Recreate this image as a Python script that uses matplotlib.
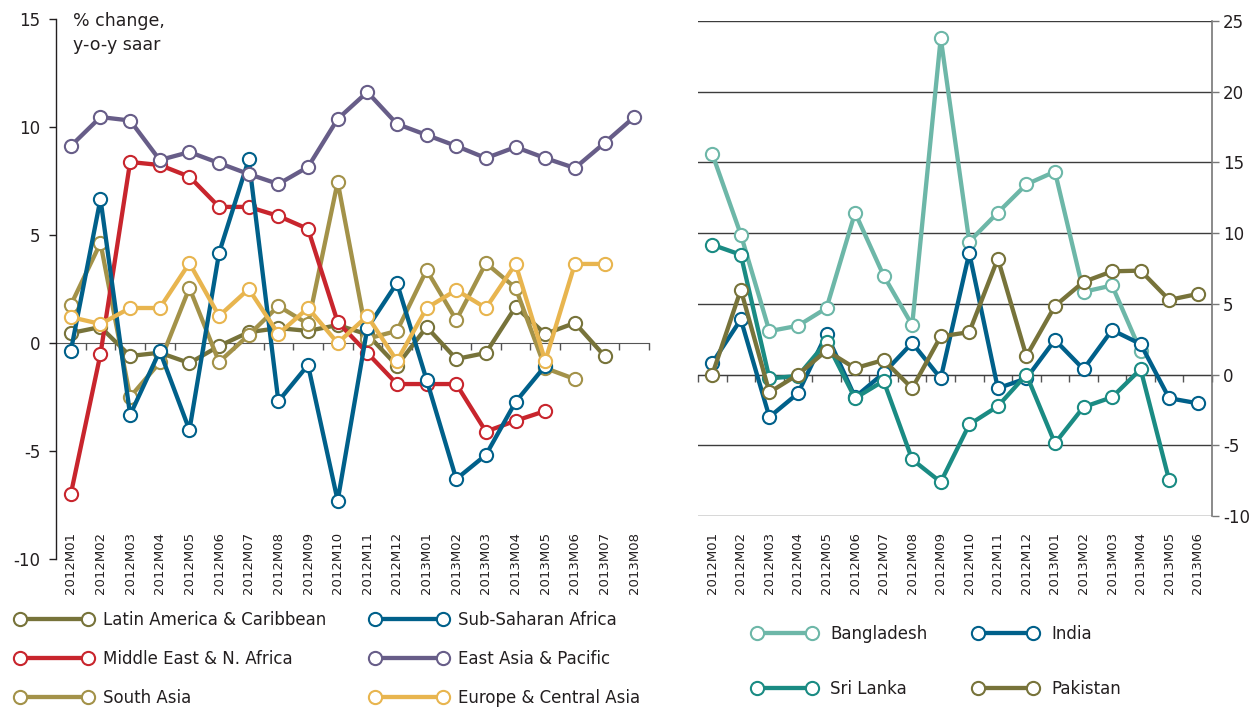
# Growth in industrial production: developing regions (left) and South Asia (right)
import numpy as np
import matplotlib
matplotlib.use("Agg")
import matplotlib.pyplot as plt

plt.rcParams['axes.unicode_minus'] = False

nan = np.nan

# categories
months_left = ['2012M01', '2012M02', '2012M03', '2012M04', '2012M05', '2012M06',
               '2012M07', '2012M08', '2012M09', '2012M10', '2012M11', '2012M12',
               '2013M01', '2013M02', '2013M03', '2013M04', '2013M05', '2013M06',
               '2013M07', '2013M08']
months_right = months_left[:18]

# left panel, % change y-o-y saar
latin_america = [0.46, 0.74, -0.6, -0.45, -0.93, -0.14, 0.5, 0.69, 0.56, 0.83,
                 0.4, -1.05, 0.74, -0.74, -0.46, 1.67, 0.42, 0.93, -0.6, nan]
middle_east = [-6.99, -0.51, 8.38, 8.24, 7.7, 6.3, 6.3, 5.88, 5.28, 0.97,
               -0.46, -1.9, -1.9, -1.9, -4.1, -3.6, -3.15, nan, nan, nan]
south_asia = [1.76, 4.63, -2.5, -0.9, 2.55, -0.88, 0.37, 1.71, 0.88, 7.46,
              0.2, 0.56, 3.38, 1.06, 3.7, 2.55, -1.16, -1.67, nan, nan]
sub_saharan = [-0.37, 6.67, -3.33, -0.37, -4.03, 4.17, 8.5, -2.7, -1.02, -7.3,
               0.69, 2.78, -1.71, -6.3, -5.18, -2.73, -1.06, nan, nan, nan]
east_asia = [9.12, 10.46, 10.3, 8.47, 8.84, 8.33, 7.82, 7.36, 8.15, 10.37,
             11.62, 10.14, 9.63, 9.12, 8.56, 9.07, 8.56, 8.1, 9.26, 10.46]
europe_ca = [1.2, 0.88, 1.62, 1.62, 3.7, 1.25, 2.5, 0.42, 1.62, 0.0,
             1.25, -0.83, 1.62, 2.45, 1.62, 3.66, -0.83, 3.66, 3.66, nan]

# right panel
bangladesh = [15.6, 9.9, 3.07, 3.45, 4.7, 11.45, 7.0, 3.5, 23.8, 9.4,
              11.45, 13.45, 14.35, 5.85, 6.3, 1.66, nan, nan]
india = [0.82, 3.9, -3.0, -1.33, 2.87, -1.6, 0.1, 2.24, -0.27, 8.6,
         -0.97, -0.27, 2.45, 0.38, 3.15, 2.16, -1.67, -2.03]
sri_lanka = [9.18, 8.47, -0.27, -0.1, 2.3, -1.67, -0.45, -6.0, -7.6, -3.53,
             -2.24, 0.0, -4.86, -2.3, -1.6, 0.38, -7.47, nan]
pakistan = [0.0, 6.0, -1.26, 0.0, 1.7, 0.45, 1.03, -0.97, 2.7, 3.0,
            8.2, 1.3, 4.85, 6.55, 7.3, 7.35, 5.28, 5.7]

TXT = '#231f20'


def draw(ax, x, y, color, label, z):
    line, = ax.plot(x, y, color=color, lw=3.1, marker='o', ms=9.5, mfc='white',
                    mec=color, mew=1.5, label=label, zorder=z)
    return line


fig = plt.figure(figsize=(12.57, 7.09), dpi=100)

# ---------------- left panel
ax1 = fig.add_axes([56 / 1257, 1 - 559 / 709, 593 / 1257, 540 / 709])
xl = np.arange(len(months_left))
l_la = draw(ax1, xl, latin_america, '#77733a', 'Latin America & Caribbean', 3)
l_sa = draw(ax1, xl, south_asia, '#a39249', 'South Asia', 4)
l_me = draw(ax1, xl, middle_east, '#c8252d', 'Middle East & N. Africa', 5)
l_ssa = draw(ax1, xl, sub_saharan, '#00608a', 'Sub-Saharan Africa', 6)
l_eca = draw(ax1, xl, europe_ca, '#e8b54f', 'Europe & Central Asia', 7)
l_eap = draw(ax1, xl, east_asia, '#675d88', 'East Asia & Pacific', 8)

ax1.set_xlim(-0.5, len(months_left) - 0.5)
ax1.set_ylim(-10, 15)
ax1.set_yticks([-10, -5, 0, 5, 10, 15])
ax1.set_xticks(xl)
ax1.set_xticklabels(months_left, rotation=90, fontsize=9.5, color=TXT)
ax1.tick_params(axis='x', length=0, pad=-19.5)
ax1.tick_params(axis='y', length=5, width=1, color=TXT, labelsize=12,
                labelcolor=TXT, pad=6)
for s in ['top', 'right', 'bottom']:
    ax1.spines[s].set_visible(False)
ax1.spines['left'].set_color(TXT)
ax1.spines['left'].set_linewidth(1)

zero1 = ax1.secondary_xaxis(10 / 25)
zero1.set_xticks(np.arange(0.5, len(months_left), 1.0))
zero1.tick_params(length=5, width=1, color='#555555', labelbottom=False)
zero1.spines['bottom'].set_color('#555555')

fig.text(73 / 1257, 1 - 12 / 709, '% change,\ny-o-y saar', fontsize=12.5,
         color=TXT, va='top', ha='left', linespacing=1.45)

# ---------------- right panel
ax2 = fig.add_axes([698 / 1257, 1 - 516 / 709, 514 / 1257, 495 / 709])
xr = np.arange(len(months_right))
l_bd = draw(ax2, xr, bangladesh, '#6db7a8', 'Bangladesh', 3)
l_in = draw(ax2, xr, india, '#00608a', 'India', 4)
l_sl = draw(ax2, xr, sri_lanka, '#1a8b83', 'Sri Lanka', 5)
l_pk = draw(ax2, xr, pakistan, '#77733a', 'Pakistan', 6)

ax2.set_xlim(-0.5, len(months_right) - 0.5)
ax2.set_ylim(-10, 25)
ax2.set_yticks(np.arange(-10, 26, 5))
ax2.yaxis.tick_right()
ax2.set_xticks(xr)
ax2.set_xticklabels(months_right, rotation=90, fontsize=9.5, color=TXT)
ax2.tick_params(axis='x', length=0, pad=11.5)
ax2.tick_params(axis='y', length=5, width=1, color='#777777', labelsize=12,
                labelcolor=TXT, pad=3)
ax2.yaxis.grid(True, color='#3c3c3c', lw=1)
ax2.set_axisbelow(True)
for s in ['top', 'left', 'bottom']:
    ax2.spines[s].set_visible(False)
ax2.spines['right'].set_color('#777777')
ax2.spines['right'].set_linewidth(1.2)

zero2 = ax2.secondary_xaxis(10 / 35)
zero2.set_xticks(np.arange(-0.5, len(months_right), 1.0))
zero2.tick_params(length=5, width=1, color='#555555', labelbottom=False)
zero2.spines['bottom'].set_color('#555555')

# ---------------- legends
leg_kw = dict(frameon=False, fontsize=12, numpoints=2, borderpad=0,
              borderaxespad=0, loc='upper left', labelcolor=TXT)
fig.legend(handles=[l_la, l_me, l_sa], bbox_to_anchor=(15 / 1257, 1 - 611 / 709),
           handlelength=4.7, labelspacing=1.25, handletextpad=0.55, **leg_kw)
fig.legend(handles=[l_ssa, l_eap, l_eca], bbox_to_anchor=(370 / 1257, 1 - 611 / 709),
           handlelength=4.7, labelspacing=1.25, handletextpad=0.55, **leg_kw)
fig.legend(handles=[l_bd, l_sl], bbox_to_anchor=(752 / 1257, 1 - 625 / 709),
           handlelength=3.9, labelspacing=2.2, handletextpad=0.8, **leg_kw)
fig.legend(handles=[l_in, l_pk], bbox_to_anchor=(973 / 1257, 1 - 625 / 709),
           handlelength=3.9, labelspacing=2.2, handletextpad=0.8, **leg_kw)

fig.savefig('out.png', dpi=100)
